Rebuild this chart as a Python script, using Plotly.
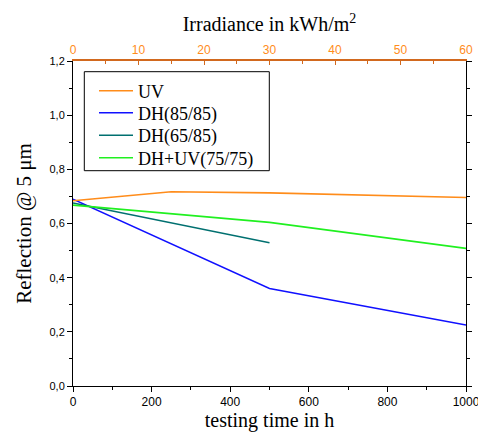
import plotly.graph_objects as go

# ---- data ----
uv_irr = [0, 15, 30, 60]              # kWh/m^2 (top axis)
uv_val = [0.684, 0.717, 0.713, 0.696]
dh85_t = [0, 250, 500, 1000]
dh85_v = [0.690, 0.525, 0.360, 0.225]
dh65_t = [0, 250, 500]
dh65_v = [0.676, 0.603, 0.529]
dhuv_t = [0, 250, 500, 1000]
dhuv_v = [0.668, 0.637, 0.604, 0.508]

y_ticks = [0.0, 0.2, 0.4, 0.6, 0.8, 1.0, 1.2]
y_ticktext = ["0,0", "0,2", "0,4", "0,6", "0,8", "1,0", "1,2"]

W, H = 478, 436
L, R, T, B = 73, 12, 61, 50
pw, ph = W - L - R, H - T - B

def px(x):
    return (x - L) / pw

def py(y):
    return (H - B - y) / ph

fig = go.Figure()
fig.add_trace(go.Scatter(x=uv_irr, y=uv_val, xaxis="x2", mode="lines", name="UV",
                         legend="legend", line=dict(color="#FF8C1A", width=1.6)))
fig.add_trace(go.Scatter(x=dh85_t, y=dh85_v, mode="lines", name="DH(85/85)",
                         legend="legend2", line=dict(color="#1010FF", width=1.4)))
fig.add_trace(go.Scatter(x=dh65_t, y=dh65_v, mode="lines", name="DH(65/85)",
                         legend="legend3", line=dict(color="#007070", width=1.4)))
fig.add_trace(go.Scatter(x=dhuv_t, y=dhuv_v, mode="lines", name="DH+UV(75/75)",
                         legend="legend4", line=dict(color="#20F020", width=1.6)))

tickfont = dict(family="Liberation Sans, Arial", size=12, color="black")
titlefont = dict(family="Liberation Serif, Times New Roman", size=20, color="black")
ytitlefont = dict(family="Liberation Serif, Times New Roman", size=21, color="black")
legfont = dict(family="Liberation Serif, Times New Roman", size=18, color="black")

def leg(yc):
    return dict(x=px(94), y=py(yc), xanchor="left", yanchor="middle",
                bgcolor="rgba(0,0,0,0)", borderwidth=0, font=legfont, itemwidth=34)

fig.update_layout(
    width=W, height=H,
    margin=dict(l=L, r=R, t=T, b=B),
    paper_bgcolor="white", plot_bgcolor="white",
    showlegend=True,
    legend=leg(91), legend2=leg(113), legend3=leg(135.5), legend4=leg(158),
    xaxis=dict(range=[0, 1000], dtick=200, tick0=0, showgrid=False, zeroline=False,
               automargin=False, ticklabeloverflow="allow",
               showline=True, linecolor="black", linewidth=1,
               ticks="outside", ticklen=5, tickcolor="black",
               minor=dict(ticks="outside", ticklen=3, dtick=100, tickcolor="black"),
               tickfont=tickfont,
               title=dict(text="testing time in h", font=titlefont, standoff=4)),
    xaxis2=dict(range=[0, 60], dtick=10, tick0=0, overlaying="x", side="top",
                showgrid=False, zeroline=False, automargin=False, ticklabeloverflow="allow",
                showline=True, linecolor="#D2691E", linewidth=2,
                ticks="inside", ticklen=4, tickcolor="#D2691E",
                minor=dict(ticks="inside", ticklen=3, dtick=5, tickcolor="#D2691E"),
                tickfont=dict(family="Liberation Sans, Arial", size=12, color="#FF8C1A"),
                title=dict(text="Irradiance in kWh/m<sup>2</sup>", font=titlefont, standoff=6)),
    yaxis=dict(range=[0, 1.2], tickmode="array", tickvals=y_ticks, ticktext=y_ticktext,
               showgrid=False, zeroline=False, automargin=False, ticklabeloverflow="allow",
               showline=True, linecolor="black", linewidth=1, mirror="ticks",
               ticks="outside", ticklen=5, tickcolor="black",
               minor=dict(ticks="outside", ticklen=3, dtick=0.1, tick0=0, tickcolor="black"),
               tickfont=dict(family="Liberation Sans, Arial", size=11, color="black"),
               title=dict(text="Reflection @ 5 μm", font=ytitlefont, standoff=12)),
    shapes=[dict(type="rect", xref="paper", yref="paper",
                 x0=px(84.3), x1=px(269.3), y0=py(170.7), y1=py(71.7),
                 line=dict(color="black", width=1), fillcolor="rgba(0,0,0,0)")],
)

fig.write_html("out.html", config={"displayModeBar": False},
               post_script="document.body.style.margin='0';")
